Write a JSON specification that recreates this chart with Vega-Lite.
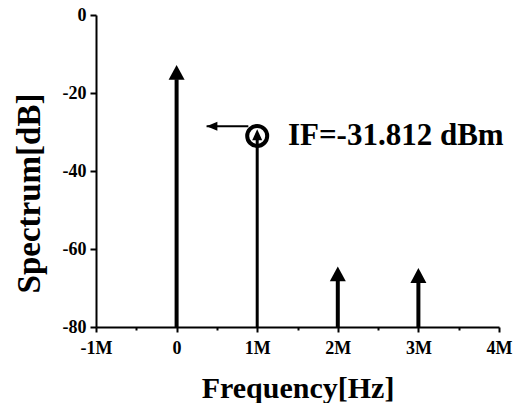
{
  "$schema": "https://vega.github.io/schema/vega-lite/v6.json",
  "width": 403,
  "height": 312,
  "autosize": {"type": "none"},
  "padding": {"left": 96, "top": 15, "right": 20, "bottom": 76},
  "background": "white",
  "config": {"view": {"stroke": null}, "font": "Liberation Serif"},
  "datasets": {
    "stems": [
      {"freq": 0, "tip": -12.8, "base": -16.5},
      {"freq": 2000000, "tip": -64.5, "base": -68},
      {"freq": 3000000, "tip": -64.9, "base": -68.3}
    ],
    "ifStem": [{"freq": 1000000, "tip": -29.3, "base": -32}],
    "marker": [{"freq": 1000000, "level": -31}],
    "pointer": [{"from": 890000, "to": 372000, "level": -28.5}],
    "label": [{"freq": 1381000, "level": -33.3, "text": "IF=-31.812 dBm"}]
  },
  "layer": [
    {
      "data": {"name": "stems"},
      "mark": {"type": "rule", "strokeWidth": 4, "color": "black", "strokeCap": "butt"},
      "encoding": {
        "x": {
          "field": "freq", "type": "quantitative",
          "scale": {"domain": [-1000000, 4000000], "nice": false, "zero": false},
          "axis": {
            "values": [-1000000, -500000, 0, 500000, 1000000, 1500000, 2000000, 2500000, 3000000, 3500000, 4000000],
            "labelExpr": "datum.value % 1000000 === 0 ? (datum.value === 0 ? '0' : (datum.value / 1000000) + 'M') : ''",
            "grid": false,
            "domainColor": "black", "domainWidth": 2,
            "tickColor": "black", "tickWidth": 2,
            "tickSize": {"condition": {"test": "datum.value % 1000000 === 0", "value": 5}, "value": 3},
            "labelFontSize": 18, "labelFontWeight": "bold", "labelColor": "black",
            "labelPadding": 7, "labelFlush": false, "labelOverlap": false,
            "title": "Frequency[Hz]", "titleFontSize": 30, "titleFontWeight": "bold", "titleColor": "black",
            "titleBaseline": "alphabetic", "titleY": 70, "titleX": 201.5, "titleAlign": "center"
          }
        },
        "y": {
          "field": "base", "type": "quantitative",
          "scale": {"domain": [-80, 0], "nice": false, "zero": false},
          "axis": {
            "values": [-80, -70, -60, -50, -40, -30, -20, -10, 0],
            "labelExpr": "datum.value % 20 === 0 ? ('' + datum.value) : ''",
            "grid": false,
            "domainColor": "black", "domainWidth": 2,
            "tickColor": "black", "tickWidth": 2,
            "tickSize": {"condition": {"test": "datum.value % 20 === 0", "value": 6}, "value": 3},
            "labelFontSize": 18, "labelFontWeight": "bold", "labelColor": "black",
            "labelPadding": 4, "labelFlush": false, "labelOverlap": false,
            "title": "Spectrum[dB]", "titleFontSize": 33, "titleFontWeight": "bold", "titleColor": "black",
            "titleAngle": -90, "titleBaseline": "alphabetic", "titleAlign": "center",
            "titleX": -57, "titleY": 178
          }
        },
        "y2": {"datum": -80}
      }
    },
    {
      "data": {"name": "stems"},
      "mark": {"type": "point", "filled": true, "color": "black", "opacity": 1, "size": 256, "shape": "M0,0L-1,1.85L1,1.85Z"},
      "encoding": {
        "x": {"field": "freq", "type": "quantitative"},
        "y": {"field": "tip", "type": "quantitative"}
      }
    },
    {
      "data": {"name": "ifStem"},
      "mark": {"type": "rule", "strokeWidth": 3, "color": "black", "strokeCap": "butt"},
      "encoding": {
        "x": {"field": "freq", "type": "quantitative"},
        "y": {"field": "base", "type": "quantitative"},
        "y2": {"datum": -80}
      }
    },
    {
      "data": {"name": "ifStem"},
      "mark": {"type": "point", "filled": true, "color": "black", "opacity": 1, "size": 100, "shape": "M0,0L-1,2.2L1,2.2Z"},
      "encoding": {
        "x": {"field": "freq", "type": "quantitative"},
        "y": {"field": "tip", "type": "quantitative"}
      }
    },
    {
      "data": {"name": "marker"},
      "mark": {"type": "point", "filled": false, "color": "black", "opacity": 1, "strokeWidth": 4, "size": 400, "shape": "circle"},
      "encoding": {
        "x": {"field": "freq", "type": "quantitative"},
        "y": {"field": "level", "type": "quantitative"}
      }
    },
    {
      "data": {"name": "pointer"},
      "mark": {"type": "rule", "strokeWidth": 2, "color": "black"},
      "encoding": {
        "x": {"field": "from", "type": "quantitative"},
        "x2": {"field": "to"},
        "y": {"field": "level", "type": "quantitative"}
      }
    },
    {
      "data": {"name": "pointer"},
      "mark": {"type": "point", "filled": true, "color": "black", "opacity": 1, "size": 81, "shape": "M0,0L2.4,-1L2.4,1Z"},
      "encoding": {
        "x": {"field": "to", "type": "quantitative"},
        "y": {"field": "level", "type": "quantitative"}
      }
    },
    {
      "data": {"name": "label"},
      "mark": {"type": "text", "align": "left", "baseline": "alphabetic", "fontSize": 31, "fontWeight": "bold", "color": "black", "font": "Liberation Serif"},
      "encoding": {
        "x": {"field": "freq", "type": "quantitative"},
        "y": {"field": "level", "type": "quantitative"},
        "text": {"field": "text"}
      }
    }
  ]
}
